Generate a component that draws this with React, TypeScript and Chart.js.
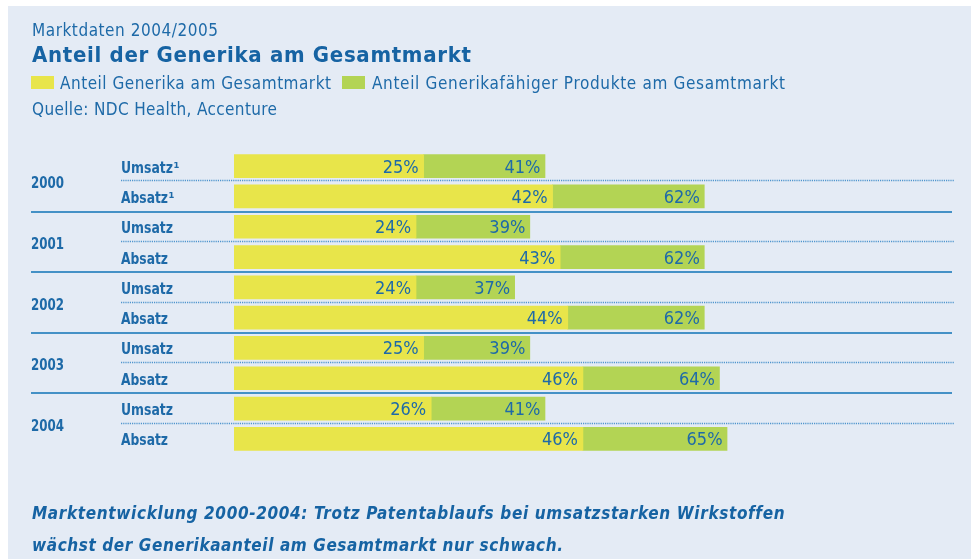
import React, { useEffect, useRef } from "react";
import { Chart, registerables } from "chart.js";

Chart.register(...registerables);

// ---- data ----
const years = ["2000", "2001", "2002", "2003", "2004"];
const rowLabels = [
  "Umsatz¹", "Absatz¹",
  "Umsatz", "Absatz",
  "Umsatz", "Absatz",
  "Umsatz", "Absatz",
  "Umsatz", "Absatz",
];
const genericShare = [25, 42, 24, 43, 24, 44, 25, 46, 26, 46];
const genericCapableShare = [41, 62, 39, 62, 37, 62, 39, 64, 41, 65];
const seriesNames = [
  "Anteil Generika am Gesamtmarkt",
  "Anteil Generikafähiger Produkte am Gesamtmarkt",
];
const kicker = "Marktdaten 2004/2005";
const title = "Anteil der Generika am Gesamtmarkt";
const source = "Quelle: NDC Health, Accenture";
const footer = [
  "Marktentwicklung 2000-2004: Trotz Patentablaufs bei umsatzstarken Wirkstoffen",
  "wächst der Generikaanteil am Gesamtmarkt nur schwach.",
];

// ---- style ----
const FONT = "'DejaVu Sans Condensed', 'DejaVu Sans', sans-serif";
const BG = "#e4ebf5";
const YELLOW = "#e8e54a";
const GREEN = "#b3d454";
const TEXT = "#1e6aa8";
const TITLE = "#1663a3";
const SOLID = "#4491c6";
const DOTTED = "#4f95cd";

function drawFit(
  ctx: CanvasRenderingContext2D,
  text: string,
  x: number,
  y: number,
  font: string,
  color: string,
  width?: number
) {
  const c: any = ctx;
  ctx.font = font;
  ctx.fillStyle = color;
  ctx.textAlign = "left";
  ctx.textBaseline = "alphabetic";
  c.letterSpacing = "0px";
  if (width) {
    const w = ctx.measureText(text).width;
    const n = Array.from(text).length;
    const ls = (width - w) / Math.max(1, n - 1);
    c.letterSpacing = ls.toFixed(3) + "px";
  }
  ctx.fillText(text, x, y);
  c.letterSpacing = "0px";
}

// horizontally scaled text (condensed look), left aligned at x
function drawScaled(
  ctx: CanvasRenderingContext2D,
  text: string,
  x: number,
  y: number,
  font: string,
  color: string,
  width: number
) {
  const c: any = ctx;
  c.letterSpacing = "0px";
  ctx.font = font;
  ctx.fillStyle = color;
  ctx.textAlign = "left";
  ctx.textBaseline = "alphabetic";
  const w = ctx.measureText(text).width;
  const sx = width / w;
  ctx.save();
  ctx.translate(x, y);
  ctx.scale(sx, 1);
  ctx.fillText(text, 0, 0);
  ctx.restore();
}

const decorPlugin = {
  id: "decor",
  beforeDraw(chart: any) {
    const ctx: CanvasRenderingContext2D = chart.ctx;
    ctx.save();
    ctx.fillStyle = "#ffffff";
    ctx.fillRect(0, 0, chart.width, chart.height);
    ctx.fillStyle = BG;
    ctx.fillRect(8, 6, chart.width - 8, chart.height - 6);
    ctx.restore();
  },
  afterDatasetsDraw(chart: any) {
    const ctx: CanvasRenderingContext2D = chart.ctx;
    const xs = chart.scales.x;
    const ys = chart.scales.y;
    ctx.save();

    // header
    drawFit(ctx, kicker, 32, 35.5, `17px ${FONT}`, TEXT, 186);
    drawFit(ctx, title, 32, 61.5, `bold 22px ${FONT}`, TITLE, 439);
    // legend
    const ds = chart.data.datasets;
    const legendPos = [
      { bx: 31, tx: 60, w: 271 },
      { bx: 342, tx: 372, w: 413 },
    ];
    ds.forEach((d: any, i: number) => {
      ctx.fillStyle = d.backgroundColor;
      ctx.fillRect(legendPos[i].bx, 76, 23, 13);
      drawFit(ctx, d.label, legendPos[i].tx, 89, `17px ${FONT}`, TEXT, legendPos[i].w);
    });
    drawFit(ctx, source, 32, 115, `17px ${FONT}`, TEXT, 245);

    // separators
    for (let i = 0; i < rowLabels.length - 1; i++) {
      const y = (ys.getPixelForValue(i) + ys.getPixelForValue(i + 1)) / 2;
      if (i % 2 === 0) {
        ctx.strokeStyle = DOTTED;
        ctx.lineWidth = 1.4;
        ctx.setLineDash([1.2, 1]);
        ctx.beginPath();
        const yy = Math.round(y) - 0.5;
        ctx.moveTo(121, yy);
        ctx.lineTo(954, yy);
        ctx.stroke();
      } else {
        ctx.strokeStyle = SOLID;
        ctx.lineWidth = 2;
        ctx.setLineDash([]);
        ctx.beginPath();
        const yy = Math.round(y);
        ctx.moveTo(31, yy);
        ctx.lineTo(952, yy);
        ctx.stroke();
      }
    }
    ctx.setLineDash([]);

    // row labels and year labels
    rowLabels.forEach((lab, i) => {
      const yc = ys.getPixelForValue(i);
      const base = lab.replace("¹", "");
      const targetW = base === "Umsatz" ? 52 : 47;
      drawScaled(ctx, base, 121, yc + 6.5, `bold 16px ${FONT}`, TEXT, targetW);
      if (lab.endsWith("¹")) {
        drawScaled(ctx, "¹", 121 + targetW + 0.5, yc + 6.5, `bold 16px ${FONT}`, TEXT, 6);
      }
    });
    years.forEach((yr, k) => {
      const y = (ys.getPixelForValue(2 * k) + ys.getPixelForValue(2 * k + 1)) / 2;
      drawScaled(ctx, yr, 31, y + 7, `bold 15px ${FONT}`, TEXT, 33);
    });

    // value labels
    const drawVal = (v: number, right: number, yc: number) => {
      const t = `${v}%`;
      drawScaled(ctx, t, right - 36, yc + 6.5, `18px ${FONT}`, TEXT, 36);
    };
    genericShare.forEach((v, i) => {
      const yc = ys.getPixelForValue(i);
      drawVal(v, xs.getPixelForValue(v) - 5, yc);
      drawVal(genericCapableShare[i], xs.getPixelForValue(genericCapableShare[i]) - 4.5, yc);
    });

    // footer
    drawFit(ctx, footer[0], 32, 519, `italic bold 17px ${FONT}`, TITLE, 752);
    drawFit(ctx, footer[1], 32, 551, `italic bold 17px ${FONT}`, TITLE, 531);

    ctx.restore();
  },
};

export default function App() {
  const ref = useRef<HTMLCanvasElement | null>(null);
  useEffect(() => {
    if (!ref.current) return;
    const chart = new Chart(ref.current, {
      type: "bar",
      data: {
        labels: rowLabels,
        datasets: [
          {
            label: seriesNames[0],
            data: genericShare,
            backgroundColor: YELLOW,
            borderWidth: 0,
          },
          {
            label: seriesNames[1],
            data: genericShare.map((v, i) => [v, genericCapableShare[i]]) as any,
            backgroundColor: GREEN,
            borderWidth: 0,
          },
        ],
      },
      options: {
        indexAxis: "y",
        responsive: false,
        animation: false,
        devicePixelRatio: 1,
        layout: { padding: { left: 234, right: 16.4, top: 151, bottom: 105 } },
        datasets: { bar: { grouped: false, barThickness: 23 } } as any,
        scales: {
          x: { display: false, min: 0, max: 95 },
          y: { display: false },
        },
        plugins: {
          legend: { display: false },
          tooltip: { enabled: false },
        },
      },
      plugins: [decorPlugin],
    });
    return () => chart.destroy();
  }, []);
  return (
    <div style={{ position: "absolute", left: 0, top: 0, width: 971, height: 559 }}>
      <canvas ref={ref} width={971} height={559} style={{ display: "block", width: 971, height: 559 }} />
    </div>
  );
}
